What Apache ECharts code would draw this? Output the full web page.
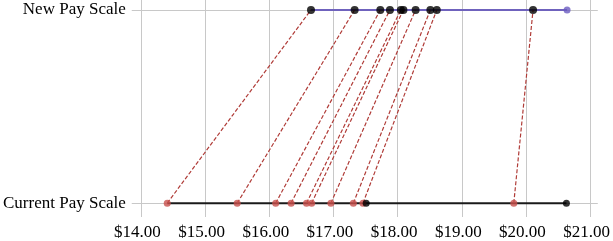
<!DOCTYPE html>
<html><head><meta charset="utf-8">
<script src="https://cdn.jsdelivr.net/npm/echarts@6/dist/echarts.min.js"></script>
<style>html,body{margin:0;padding:0;background:#fff}#c{width:613px;height:241px}</style>
</head><body><div id="c"></div>
<script>
const rowLabels = ['Current Pay Scale', 'New Pay Scale'];
const xTicks = [14, 15, 16, 17, 18, 19, 20, 21];
const currentPay = [14.41, 15.50, 16.10, 16.34, 16.58, 16.66, 16.96, 17.31, 17.46, 19.81];
const newPay = [16.65, 17.33, 17.73, 17.88, 18.05, 18.09, 18.28, 18.51, 18.61, 20.11];
const currentBlack = [17.51, 20.63];
const newPurple = [20.64];

const FONT = 'Liberation Serif';
const series = [];
const curAll = currentPay.concat(currentBlack);
const newAll = newPay.concat(newPurple);
series.push({type:'line', data:[[Math.min(...curAll),0],[Math.max(...curAll),0]], showSymbol:false, lineStyle:{color:'#1a1a1a', width:2}, z:2, silent:true});
series.push({type:'line', data:[[Math.min(...newAll),1],[Math.max(...newAll),1]], showSymbol:false, lineStyle:{color:'#6f62bd', width:2}, z:2, silent:true});
currentPay.forEach((c,i)=>{
  series.push({type:'line', data:[[c,0],[newPay[i],1]], showSymbol:false, lineStyle:{color:'#b03c38', width:1.2, type:[4,2]}, z:3, silent:true});
});
series.push({type:'scatter', data:currentPay.map(v=>[v,0]), symbolSize:7, itemStyle:{color:'#c8504c'}, z:5});
series.push({type:'scatter', data:currentBlack.map(v=>[v,0]), symbolSize:7, itemStyle:{color:'#000'}, z:6});
series.push({type:'scatter', data:newPay.map(v=>[v,1]), symbolSize:8, itemStyle:{color:'#000'}, z:6});
series.push({type:'scatter', data:newPurple.map(v=>[v,1]), symbolSize:7, itemStyle:{color:'#6a5bc0'}, z:6});

const chart = echarts.init(document.getElementById('c'), null, {renderer:'canvas'});
chart.setOption({
  animation:false,
  grid:{left:129, right:13, top:0, height:219},
  xAxis:{type:'value', min:13.857, max:21.119,
    axisLine:{show:false},
    axisTick:{show:false, customValues:xTicks},
    splitLine:{show:true, lineStyle:{color:'#c8c8c8', width:1}},
    axisLabel:{customValues:xTicks, formatter:v=>'$'+v.toFixed(2), fontFamily:FONT, fontSize:17, color:'#000', margin:7, padding:[0,7,0,0]}
  },
  yAxis:{type:'value', min:-0.0718, max:1.0513,
    axisLine:{show:false},
    axisTick:{show:false, customValues:[0,1]},
    splitLine:{show:true, lineStyle:{color:'#c8c8c8', width:1}},
    axisLabel:{customValues:[0,1], formatter:v=>rowLabels[Math.round(v)], fontFamily:FONT, fontSize:17, color:'#000', margin:6, padding:[2,0,0,0]}
  },
  series:series
});
</script></body></html>
